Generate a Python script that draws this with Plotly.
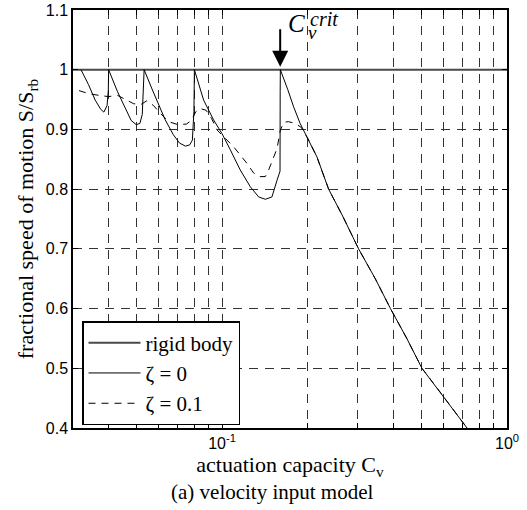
import numpy as np
import plotly.graph_objects as go

# ---------------- data ----------------
rigid_x = [0.03, 1.0]
rigid_y = [1.0, 1.0]

zeta0_x = [0.0320, 0.0340, 0.0359, 0.0375, 0.0385, 0.0395, 0.0399, 0.0400,
           0.0430, 0.0458, 0.0480, 0.0500, 0.0515, 0.0525, 0.0531, 0.0533,
           0.0570, 0.0607, 0.0632, 0.0675, 0.0710, 0.0745, 0.0770, 0.0787,
           0.0797, 0.0800, 0.0862, 0.0934, 0.1000, 0.1069, 0.1159, 0.1257,
           0.1344, 0.1420, 0.1497, 0.1560, 0.1598, 0.1600, 0.1602, 0.1700,
           0.1783, 0.1880, 0.2000, 0.2153, 0.2366, 0.2650, 0.3015, 0.3450,
           0.3900, 0.4450, 0.5030, 0.5830, 0.7240]
zeta0_y = [1.000, 0.975, 0.949, 0.934, 0.929, 0.940, 0.965, 1.000,
           0.963, 0.935, 0.915, 0.908, 0.910, 0.925, 0.966, 1.000,
           0.966, 0.935, 0.916, 0.891, 0.877, 0.872, 0.874, 0.882,
           0.930, 1.000, 0.949, 0.916, 0.893, 0.866, 0.832, 0.804,
           0.787, 0.783, 0.787, 0.815, 0.830, 0.963, 1.000, 0.967,
           0.938, 0.910, 0.885, 0.854, 0.800, 0.755, 0.700, 0.650,
           0.600, 0.550, 0.500, 0.460, 0.400]

zeta01_x = [0.0315, 0.0340, 0.0370, 0.0400, 0.0430, 0.0460, 0.0490, 0.0520,
            0.0545, 0.0575, 0.0610, 0.0650, 0.0700, 0.0750, 0.0780, 0.0810,
            0.0840, 0.0880, 0.0920, 0.0961, 0.1098, 0.1224, 0.1291, 0.1360,
            0.1419, 0.1457, 0.1518, 0.1560, 0.1602, 0.1650, 0.1710, 0.1810,
            0.1900, 0.2000, 0.2153, 0.2366, 0.2650, 0.3015, 0.3450, 0.3900,
            0.4450, 0.5030, 0.5830, 0.7240]
zeta01_y = [0.965, 0.960, 0.957, 0.955, 0.957, 0.950, 0.943, 0.942,
            0.948, 0.940, 0.926, 0.913, 0.908, 0.909, 0.915, 0.930,
            0.935, 0.932, 0.918, 0.899, 0.871, 0.843, 0.827, 0.821,
            0.821, 0.832, 0.852, 0.868, 0.899, 0.912, 0.913, 0.910,
            0.903, 0.885, 0.854, 0.800, 0.755, 0.700, 0.650, 0.600,
            0.550, 0.500, 0.460, 0.400]

c_crit = 0.16

x_tickvals = [0.04, 0.05, 0.06, 0.07, 0.08, 0.09, 0.1,
              0.2, 0.3, 0.4, 0.5, 0.6, 0.7, 0.8, 0.9, 1.0]
x_ticktext = ["", "", "", "", "", "", "10<sup>-1</sup>",
              "", "", "", "", "", "", "", "", "10<sup>0</sup>"]
y_tickvals = [0.4, 0.5, 0.6, 0.7, 0.8, 0.9, 1.0, 1.1]
y_ticktext = ["0.4", "0.5", "0.6", "0.7", "0.8", "0.9", "1", "1.1"]

# ---------------- figure ----------------
W, H = 527, 510
ML, MR, MT, MB = 73, 20, 10, 82
PW, PH = W - ML - MR, H - MT - MB


def px2paper(px, py):
    return (px - ML) / PW, (H - MB - py) / PH


SERIF = "Liberation Serif, Times New Roman, serif"
SANS = "Liberation Sans, Arial, sans-serif"

fig = go.Figure()
fig.add_trace(go.Scatter(x=rigid_x, y=rigid_y, mode="lines", name="rigid body",
                         line=dict(color="#4a4a4a", width=2)))
fig.add_trace(go.Scatter(x=zeta0_x, y=zeta0_y, mode="lines", name="ζ = 0",
                         line=dict(color="black", width=1)))
fig.add_trace(go.Scatter(x=zeta01_x, y=zeta01_y, mode="lines", name="ζ = 0.1",
                         line=dict(color="black", width=1, dash="7px,6px")))

axis_common = dict(
    showline=True, linecolor="black", linewidth=1.5, mirror="ticks",
    ticks="inside", ticklen=5, tickcolor="black", tickwidth=1,
    showgrid=True, gridcolor="#333333", gridwidth=1, griddash="9px,7px",
    zeroline=False, tickfont=dict(family=SANS, size=16, color="black"),
)

fig.update_xaxes(type="log", range=[np.log10(0.03), 0],
                 tickmode="array", tickvals=x_tickvals, ticktext=x_ticktext,
                 title=dict(text="actuation capacity C<sub>v</sub>",
                            font=dict(family=SERIF, size=22, color="black"),
                            standoff=4),
                 **axis_common)
fig.update_yaxes(range=[0.4, 1.1], tickmode="array",
                 tickvals=y_tickvals, ticktext=y_ticktext,
                 title=dict(text="fractional speed of motion S/S<sub>rb</sub>",
                            font=dict(family=SERIF, size=22, color="black"),
                            standoff=6),
                 **axis_common)

lx, ly = px2paper(82, 425)
fig.update_layout(
    width=W, height=H,
    margin=dict(l=ML, r=MR, t=MT, b=MB, autoexpand=False),
    paper_bgcolor="white", plot_bgcolor="white",
    showlegend=True,
    legend=dict(x=lx, y=ly, xanchor="left", yanchor="bottom",
                bgcolor="white", bordercolor="black", borderwidth=1.5,
                font=dict(family=SERIF, size=21, color="black"),
                itemwidth=52, tracegroupgap=0),
)

# arrow pointing at C_v^crit
fig.add_annotation(x=np.log10(c_crit), y=1.0, xref="x", yref="y",
                   ax=0, ay=-42, axref="pixel", ayref="pixel",
                   showarrow=True, arrowhead=2, arrowsize=1.6, arrowwidth=2,
                   arrowcolor="black", standoff=3, text="")

cx, cy = px2paper(296, 24)
fig.add_annotation(x=cx, y=cy, xref="paper", yref="paper", text="<i>C</i>",
                   showarrow=False, xanchor="center", yanchor="middle",
                   font=dict(family=SERIF, size=25, color="black"))
sx, sy = px2paper(308, 19)
fig.add_annotation(x=sx, y=sy, xref="paper", yref="paper", text="<i>crit</i>",
                   showarrow=False, xanchor="left", yanchor="middle",
                   font=dict(family=SERIF, size=20, color="black"))
vx, vy = px2paper(306, 32)
fig.add_annotation(x=vx, y=vy, xref="paper", yref="paper", text="<i>v</i>",
                   showarrow=False, xanchor="left", yanchor="middle",
                   font=dict(family=SERIF, size=19, color="black"))

# caption
capx, capy = px2paper(272, 492)
fig.add_annotation(x=capx, y=capy, xref="paper", yref="paper",
                   text="(a) velocity input model", showarrow=False,
                   xanchor="center", yanchor="middle",
                   font=dict(family=SERIF, size=21, color="black"))

fig.write_html("out.html")
